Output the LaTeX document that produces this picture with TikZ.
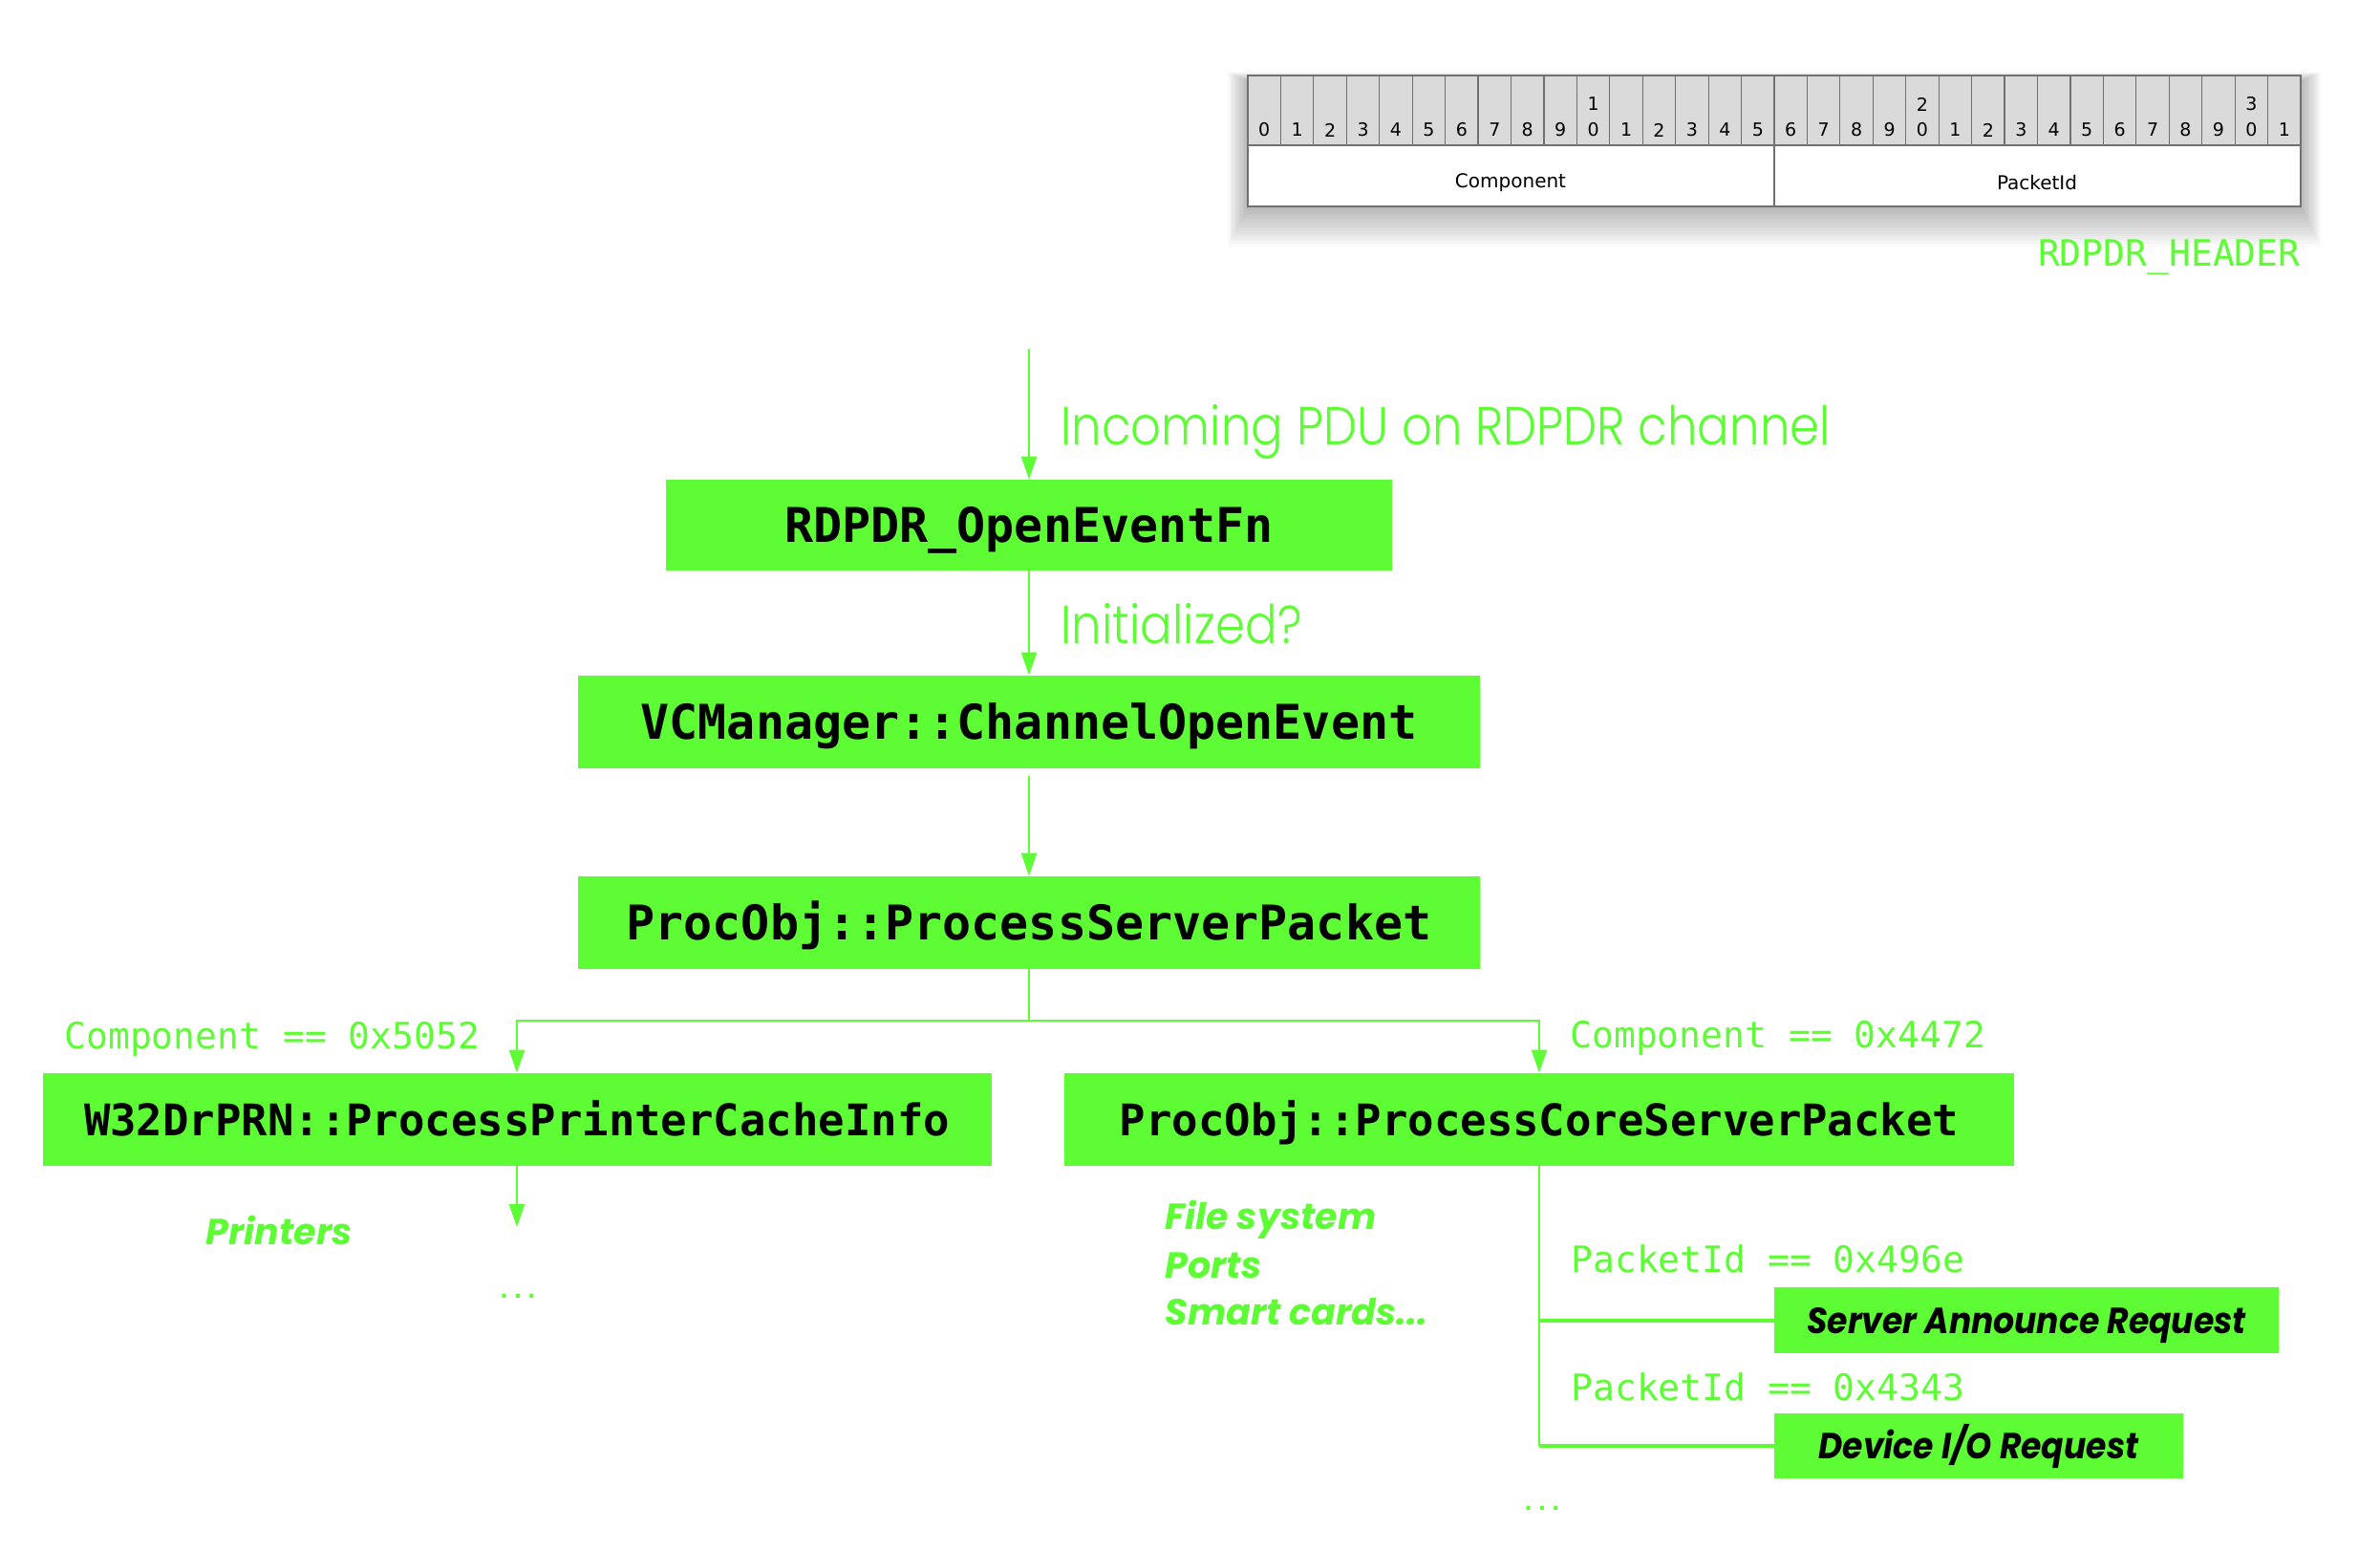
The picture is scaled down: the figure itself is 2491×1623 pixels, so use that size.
\documentclass[tikz,border=0pt]{standalone}
\usepackage{fontspec}
\usetikzlibrary{arrows.meta}
\newfontfamily\monofam{DejaVu Sans Mono}
\newfontfamily\gothl{Poppins Light}[FakeStretch=0.89]
\newfontfamily\goth{Poppins}
\newfontfamily\gothc{Poppins}[FakeStretch=0.91]
\newfontfamily\tabfont{DejaVu Sans}
\definecolor{lg}{HTML}{5DFC34}
\definecolor{hdrgray}{HTML}{DADADA}
\definecolor{cellline}{HTML}{707070}
\begin{document}
\begin{tikzpicture}[x=0.5pt,y=-0.5pt,
  fbox/.style={fill=lg, inner sep=0pt, text height=18pt, text depth=0pt, font=\monofam\bfseries\fontsize{25}{30}\selectfont, text=black},
  fboxs/.style={fbox, text height=16.6pt, font=\monofam\bfseries\fontsize{22.8}{27}\selectfont},
  rbox/.style={fill=lg, inner sep=0pt, text height=13.5pt, text depth=0pt, font=\gothc\bfseries\itshape\fontsize{19}{23}\selectfont, text=black},
  conn/.style={draw=lg, line width=1.2pt},
  arr/.style={conn, -{Triangle[length=12pt,width=8pt]}},
  cond/.style={text=lg, inner sep=0pt, anchor=west, font=\monofam\fontsize{19}{23}\selectfont},
  glabel/.style={text=lg, inner sep=0pt, anchor=west, font=\gothl\fontsize{28}{34}\selectfont},
  ilabel/.style={text=lg, inner sep=0pt, anchor=west, font=\goth\bfseries\itshape\fontsize{19}{30}\selectfont},
  dots/.style={text=lg, inner sep=0pt, anchor=base, font=\monofam\bfseries\fontsize{12}{14}\selectfont},
  digit/.style={inner sep=0pt, font=\tabfont\fontsize{9.5}{11}\selectfont},
  fieldtxt/.style={inner sep=0pt, font=\tabfont\fontsize{10}{12}\selectfont}
]
\useasboundingbox (0,0) rectangle (2491,1623);
% ---- header table with shadow ----
\foreach \k in {1,...,16}{
  \fill[black, opacity=0.02] ({1306-1.3*\k},{79-0.6*\k+6}) rectangle ({2408+1.3*\k},{216+2.6*\k});
}
\foreach \i in {0,...,31}{
  \draw[cellline, fill=hdrgray, line width=0.6pt] ({1306+34.4375*\i},79) rectangle ({1306+34.4375*(\i+1)},152);
  \pgfmathtruncatemacro\dig{mod(\i,10)}
  \pgfmathtruncatemacro\tens{\i/10}
  \node[digit] at ({1306+34.4375*(\i+0.5)},136) {\dig};
  \ifnum\dig=0 \ifnum\i>0 \node[digit] at ({1306+34.4375*(\i+0.5)},109) {\tens}; \fi\fi
}
\draw[cellline, fill=white, line width=0.6pt] (1306,152) rectangle (1857,216);
\draw[cellline, fill=white, line width=0.6pt] (1857,152) rectangle (2408,216);
\node[fieldtxt] (fcomp) at (1581,191) {Component};
\node[fieldtxt] (fpid) at (2132,191) {PacketId};
\node[text=lg, inner sep=0pt, anchor=east, font=\monofam\fontsize{19}{23}\selectfont] (hdr) at (2408,269) {RDPDR\_HEADER};
% ---- boxes ----
\node[fbox, minimum width=380pt, minimum height=47.5pt] (b1) at (1077,549.5) {RDPDR\_OpenEventFn};
\node[fbox, minimum width=472pt, minimum height=48.5pt] (b2) at (1077,755.5) {VCManager::ChannelOpenEvent};
\node[fbox, minimum width=472pt, minimum height=48.5pt] (b3) at (1077,965.5) {ProcObj::ProcessServerPacket};
\node[fboxs, minimum width=496.5pt, minimum height=48.5pt] (b4) at (541,1171.5) {W32DrPRN::ProcessPrinterCacheInfo};
\node[fboxs, minimum width=497pt, minimum height=48.5pt] (b5) at (1611,1171.5) {ProcObj::ProcessCoreServerPacket};
\node[rbox, minimum width=264pt, minimum height=34.5pt] (b6) at (2121,1381.5) {Server Announce Request};
\node[rbox, minimum width=214pt, minimum height=34pt] (b7) at (2071,1513) {Device I/O Request};
% ---- coordinates ----
\coordinate (start) at (1077,365);
\coordinate (split) at (1077,1068);
\coordinate (sl) at (541,1068);
\coordinate (sr) at (1611,1068);
\coordinate (prn) at (541,1284);
\coordinate (j1) at (1611,1381.5);
\coordinate (j2) at (1611,1513);
% ---- connectors ----
\draw[arr] (start) -- (b1.north);
\draw[arr] (b1.south) -- (b2.north);
\draw[arr, shorten <=4pt] (b2.south) -- (b3.north);
\draw[conn] (b3.south) -- (split);
\draw[arr] (split) -- (sl) -- (b4.north);
\draw[arr] (split) -- (sr) -- (b5.north);
\draw[arr] (b4.south) -- (prn);
\draw[conn] (b5.south) -- (j2);
\draw[draw=lg, line width=2pt] (j1) -- (b6.west);
\draw[draw=lg, line width=2pt] (j2) -- (b7.west);
% ---- labels ----
\node[glabel] (lin) at (1110,452) {Incoming PDU on RDPDR channel};
\node[glabel] (linit) at (1110,653) {Initialized?};
\node[cond] (c1) at (67,1087) {Component == 0x5052};
\node[cond] (c2) at (1643,1086) {Component == 0x4472};
\node[cond] (p1) at (1644,1317) {PacketId == 0x496e};
\node[cond] (p2) at (1644,1451) {PacketId == 0x4343};
\node[ilabel, anchor=center] (lprn) at (292,1287) {Printers};
\node[ilabel, anchor=west] (lfs) at (1219,1276) {File system};
\node[ilabel, anchor=west] (lports) at (1219,1324) {Ports};
\node[ilabel, anchor=west] (lsc) at (1219,1373) {Smart cards...};
\node[dots] (dots1) at (542,1358) {...};
\node[dots] (dots2) at (1614,1580) {...};
\end{tikzpicture}
\end{document}
